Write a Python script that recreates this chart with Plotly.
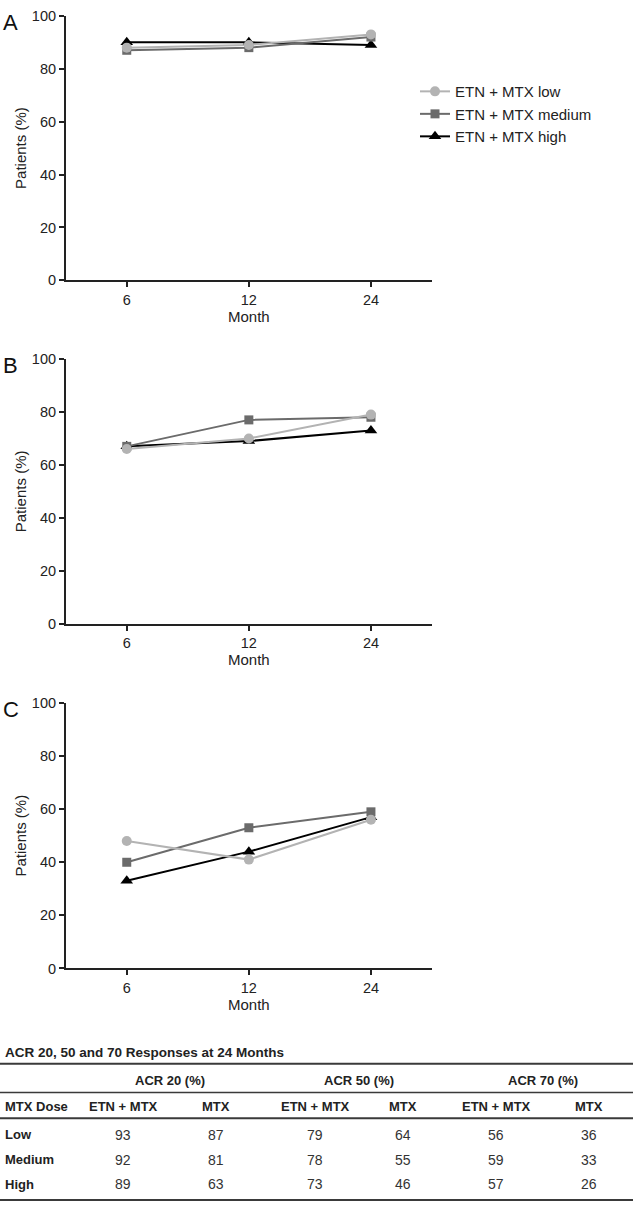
import plotly.graph_objects as go

W, H = 636, 1211

months = ["6", "12", "24"]

# Panel A (ACR 20)
a_low = [88, 89, 93]
a_medium = [87, 88, 92]
a_high = [90, 90, 89]
# Panel B (ACR 50)
b_low = [66, 70, 79]
b_medium = [67, 77, 78]
b_high = [67, 69, 73]
# Panel C (ACR 70)
c_low = [48, 41, 56]
c_medium = [40, 53, 59]
c_high = [33, 44, 57]

panel_letters = ["A", "B", "C"]
series_names = ["ETN + MTX low", "ETN + MTX medium", "ETN + MTX high"]
y_ticks = [0, 20, 40, 60, 80, 100]

# Table data
table_title = "ACR 20, 50 and 70 Responses at 24 Months"
group_headers = ["ACR 20 (%)", "ACR 50 (%)", "ACR 70 (%)"]
col_headers = ["MTX Dose", "ETN + MTX", "MTX", "ETN + MTX", "MTX", "ETN + MTX", "MTX"]
doses = ["Low", "Medium", "High"]
acr20_etn = [93, 92, 89]
acr20_mtx = [87, 81, 63]
acr50_etn = [79, 78, 73]
acr50_mtx = [64, 55, 46]
acr70_etn = [56, 59, 57]
acr70_mtx = [36, 33, 26]

FONT = "Liberation Sans, Arial, Helvetica, sans-serif"
AX = "#222222"
colors = {"low": "#b3b3b3", "medium": "#6b6b6b", "high": "#000000"}
symbols = {"low": "circle", "medium": "square", "high": "triangle-up"}
msize = {"low": 10, "medium": 9, "high": 11}

panels = [
    {"low": a_low, "medium": a_medium, "high": a_high},
    {"low": b_low, "medium": b_medium, "high": b_high},
    {"low": c_low, "medium": c_medium, "high": c_high},
]

# pixel geometry of plot areas (top, bottom)
x_left, x_right = 65.7, 432
py = [(8, 276), (355.7, 624), (704.3, 973.3)]

fig = go.Figure()

for i, pdata in enumerate(panels):
    xa = "x" if i == 0 else f"x{i+1}"
    ya = "y" if i == 0 else f"y{i+1}"
    for rank, key in [(3, "high"), (2, "medium"), (1, "low")]:
        fig.add_trace(go.Scatter(
            x=months, y=pdata[key], xaxis=xa, yaxis=ya,
            mode="lines+markers",
            name=series_names[rank - 1],
            legendrank=rank,
            showlegend=(i == 0),
            line=dict(color=colors[key], width=2),
            marker=dict(symbol=symbols[key], size=msize[key], color=colors[key]),
            cliponaxis=False,
        ))
    top, bot = py[i]
    xkey = "xaxis" if i == 0 else f"xaxis{i+1}"
    ykey = "yaxis" if i == 0 else f"yaxis{i+1}"
    fig.update_layout(**{
        xkey: dict(
            domain=[x_left / W, x_right / W],
            anchor=ya, type="category", range=[-0.5, 2.5],
            showline=True, linecolor=AX, linewidth=1.5,
            ticks="outside", ticklen=5, tickwidth=1.5, tickcolor=AX,
            showgrid=False, zeroline=False,
            tickfont=dict(family=FONT, size=14.5, color=AX),
            title=dict(text="Month", font=dict(family=FONT, size=15, color=AX), standoff=4),
            fixedrange=True,
        ),
        ykey: dict(
            domain=[1 - bot / H, 1 - top / H],
            anchor=xa, range=[0, 100], tickvals=y_ticks,
            showline=True, linecolor=AX, linewidth=1.5,
            ticks="outside", ticklen=5, tickwidth=1.5, tickcolor=AX,
            showgrid=False, zeroline=False,
            tickfont=dict(family=FONT, size=14.5, color=AX),
            title=dict(text="Patients (%)", font=dict(family=FONT, size=15, color=AX), standoff=2),
            fixedrange=True,
        ),
    })

annotations = []
for i, letter in enumerate(panel_letters):
    top = py[i][0]
    annotations.append(dict(
        text=letter, xref="paper", yref="paper", x=1 / W, y=1 - (top + 7) / H,
        xanchor="left", yanchor="middle", showarrow=False,
        font=dict(family=FONT, size=22, color="#111111"),
    ))

# ---- table ----
TXT = "#222222"
def px(x):
    return x / W
def pyy(y):
    return 1 - y / H

annotations.append(dict(
    text=f"<b>{table_title}</b>", xref="paper", yref="paper", x=px(3), y=pyy(1058),
    xanchor="left", yanchor="middle", showarrow=False,
    font=dict(family=FONT, size=13.5, color=TXT),
))
group_x = [169.5, 359, 542.5]
for g, gx in zip(group_headers, group_x):
    annotations.append(dict(
        text=f"<b>{g}</b>", xref="paper", yref="paper", x=px(gx), y=pyy(1087),
        xanchor="center", yanchor="middle", showarrow=False,
        font=dict(family=FONT, size=13, color=TXT),
    ))
col_x = [3, 123, 216, 315, 403, 496, 589]
for j, (h, cx) in enumerate(zip(col_headers, col_x)):
    annotations.append(dict(
        text=f"<b>{h}</b>", xref="paper", yref="paper", x=px(cx), y=pyy(1113),
        xanchor="left" if j == 0 else "center", yanchor="middle", showarrow=False,
        font=dict(family=FONT, size=13, color=TXT),
    ))
row_y = [1142, 1167, 1192]
cols = [acr20_etn, acr20_mtx, acr50_etn, acr50_mtx, acr70_etn, acr70_mtx]
for r, (d, ry) in enumerate(zip(doses, row_y)):
    annotations.append(dict(
        text=f"<b>{d}</b>", xref="paper", yref="paper", x=px(3), y=pyy(ry),
        xanchor="left", yanchor="middle", showarrow=False,
        font=dict(family=FONT, size=13, color=TXT),
    ))
    for c, cx in zip(cols, col_x[1:]):
        annotations.append(dict(
            text=str(c[r]), xref="paper", yref="paper", x=px(cx), y=pyy(ry),
            xanchor="center", yanchor="middle", showarrow=False,
            font=dict(family=FONT, size=14, color="#333333"),
        ))

shapes = []
for ry, wdt in [(1070, 2), (1099, 1.5), (1125, 2), (1208, 2)]:
    shapes.append(dict(
        type="line", xref="paper", yref="paper", x0=0, x1=px(633), y0=pyy(ry), y1=pyy(ry),
        line=dict(color="#3a3a3a", width=wdt),
    ))

fig.update_layout(
    width=W, height=H,
    margin=dict(l=0, r=0, t=0, b=0),
    paper_bgcolor="white", plot_bgcolor="white",
    font=dict(family=FONT, color=AX),
    showlegend=True,
    legend=dict(
        x=px(415), y=pyy(68), xanchor="left", yanchor="top",
        font=dict(family=FONT, size=15, color=AX),
        bgcolor="rgba(0,0,0,0)", borderwidth=0,
        tracegroupgap=0, itemwidth=30,
    ),
    annotations=annotations,
    shapes=shapes,
)

fig.write_html(
    "out.html",
    config={"displayModeBar": False, "staticPlot": False},
    post_script=(
        "document.documentElement.style.margin='0';"
        "document.body.style.margin='0';"
        "document.body.style.overflow='hidden';"
    ),
)
